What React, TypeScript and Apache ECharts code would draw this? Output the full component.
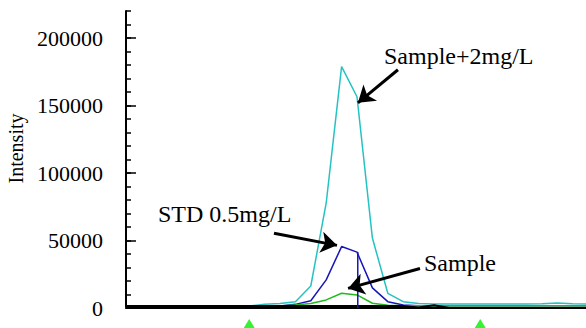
import React, { useEffect, useRef } from "react";
import * as echarts from "echarts";

// scan index (x) 0..30
const scans: number[] = Array.from({ length: 31 }, (_, i) => i);

// Sample + 2 mg/L (cyan)
const sampleSpiked: number[] = [
  1500, 1500, 1500, 1500, 1500, 1500, 1500, 1500, 1500, 2700,
  3400, 4700, 16300, 77800, 178800, 156500, 51800, 10900, 4700, 3300,
  3000, 3000, 3000, 3000, 3000, 3000, 3000, 3100, 3700, 3100, 3000,
];
// STD 0.5 mg/L (blue)
const std05: number[] = [
  1500, 1500, 1500, 1500, 1500, 1500, 1500, 1500, 1500, 1500,
  1500, 2700, 5400, 20800, 45500, 41400, 14900, 4700, 2300, 1700,
  1700, 1700, 1700, 1700, 1700, 1700, 1700, 1700, 1700, 1700, 1700,
];
// Sample (green)
const sample: number[] = [
  1500, 1500, 1500, 1500, 1500, 1500, 1500, 1500, 1500, 1500,
  1500, 2200, 3300, 6000, 10900, 9700, 3500, 2000, 1700, 1700,
  1700, 1700, 1700, 1700, 1700, 1700, 1700, 1700, 1700, 1700, 1700,
];
// blank trace (black)
const blank: number[] = [
  1500, 1500, 1500, 1500, 1500, 1500, 1500, 1500, 1500, 1500,
  1500, 1500, 1500, 1500, 1500, 1500, 1500, 1500, 1400, 400,
  2000, 0, 0, 0, 0, 0, 0, 0, 0, 0, 0,
];

const peakMarkScan = 15.05;
const windowScans: number[] = [8, 23];
const windowMarkValue = -11400;

const yMax = 220000;
const yMajor = 50000;
const yMinor = 10000;
const xMax = 29.87;

// annotation arrows: [tailScan, tailValue, tipScan, tipValue]
const arrowSpiked = [17.66, 176500, 15.06, 152000];
const arrowStd = [9.61, 55400, 13.7, 46400];
const arrowSample = [19.09, 29300, 14.42, 14500];

const labelTexts = ["Sample+2mg/L", "STD 0.5mg/L", "Sample"];

const SERIF = "Liberation Serif";

const toPairs = (vals: number[]) => scans.map((s, i) => [s, vals[i]]);
const arrow = (a: number[]) => [
  { coord: [a[0], a[1]], symbol: "none" },
  { coord: [a[2], a[3]], symbol: "arrow" },
];

export default function App() {
  const ref = useRef<HTMLDivElement>(null);
  useEffect(() => {
    if (!ref.current) return;
    const chart = echarts.init(ref.current, undefined, { renderer: "svg" });
    const lineBase = {
      type: "line" as const,
      symbol: "none",
      animation: false,
      silent: true,
      xAxisIndex: 0,
      yAxisIndex: 0,
    };
    chart.setOption({
      animation: false,
      textStyle: { fontFamily: SERIF },
      grid: { left: 126, right: 0, top: 11, bottom: 20, containLabel: false, outerBoundsMode: "none" },
      xAxis: [
        {
          type: "value",
          position: "bottom",
          min: 0,
          max: xMax,
          axisLine: { show: true, onZero: false, lineStyle: { color: "#a8a8a8", width: 2 } },
          axisTick: { show: false },
          axisLabel: { show: false },
          splitLine: { show: false },
        },
        {
          type: "value",
          position: "top",
          min: 0,
          max: xMax,
          axisLine: { show: true, lineStyle: { color: "#000", width: 2 } },
          axisTick: { show: false },
          axisLabel: { show: false },
          splitLine: { show: false },
        },
      ],
      yAxis: [
        {
          type: "value",
          position: "left",
          offset: 0,
          min: 0,
          max: yMax,
          interval: yMinor,
          axisLine: { show: true, lineStyle: { color: "#000", width: 2 } },
          axisTick: { show: true, inside: true, length: 5, lineStyle: { color: "#000", width: 1.5 } },
          axisLabel: { show: false },
          splitLine: { show: false },
        },
        {
          type: "value",
          position: "left",
          offset: 0,
          min: 0,
          max: yMax,
          interval: yMajor,
          name: "Intensity",
          nameLocation: "middle",
          nameGap: 100,
          nameTextStyle: { fontFamily: SERIF, fontSize: 20, color: "#000", padding: [0, 0, 0, 22] },
          axisLine: { show: false },
          axisTick: { show: true, inside: true, length: 10, lineStyle: { color: "#000", width: 1.5 } },
          axisLabel: {
            show: true,
            margin: 23,
            fontFamily: SERIF,
            fontSize: 22,
            color: "#000",
            showMaxLabel: false,
            formatter: (v: number) => String(v),
          },
          splitLine: { show: false },
        },
      ],
      series: [
        { ...lineBase, name: "Sample+2mg/L", data: toPairs(sampleSpiked), lineStyle: { color: "#25c2c2", width: 1.5 } },
        { ...lineBase, name: "STD 0.5mg/L", data: toPairs(std05), lineStyle: { color: "#1616b8", width: 1.5 } },
        { ...lineBase, name: "Sample", data: toPairs(sample), lineStyle: { color: "#1fbb1f", width: 1.5 } },
        { ...lineBase, name: "Blank", data: toPairs(blank), lineStyle: { color: "#000", width: 2 } },
        {
          ...lineBase,
          name: "Peak",
          data: [
            [peakMarkScan, 0],
            [peakMarkScan, std05[15]],
          ],
          lineStyle: { color: "#1616b8", width: 1.5 },
        },
        {
          type: "scatter",
          name: "Window",
          silent: true,
          clip: false,
          symbol: "triangle",
          symbolSize: [11, 9],
          itemStyle: { color: "#00f000" },
          data: windowScans.map((s) => [s, windowMarkValue]),
        },
        {
          ...lineBase,
          name: "Annotations",
          data: [],
          markLine: {
            silent: true,
            animation: false,
            symbolSize: 16,
            label: { show: false },
            lineStyle: { color: "#000", width: 3, type: "solid" },
            data: [arrow(arrowSpiked), arrow(arrowStd), arrow(arrowSample)],
          },
        },
      ],
      graphic: [
        {
          type: "text",
          x: 384,
          y: 56,
          silent: true,
          style: { text: labelTexts[0], fontFamily: SERIF, fontSize: 24, fill: "#000", align: "left", verticalAlign: "middle" },
        },
        {
          type: "text",
          x: 158,
          y: 214,
          silent: true,
          style: { text: labelTexts[1], fontFamily: SERIF, fontSize: 24, fill: "#000", align: "left", verticalAlign: "middle" },
        },
        {
          type: "text",
          x: 424,
          y: 263,
          silent: true,
          style: { text: labelTexts[2], fontFamily: SERIF, fontSize: 24, fill: "#000", align: "left", verticalAlign: "middle" },
        },
      ],
    });
    return () => chart.dispose();
  }, []);
  return <div ref={ref} style={{ width: 586, height: 328, position: "absolute", left: 0, top: 0 }} />;
}
